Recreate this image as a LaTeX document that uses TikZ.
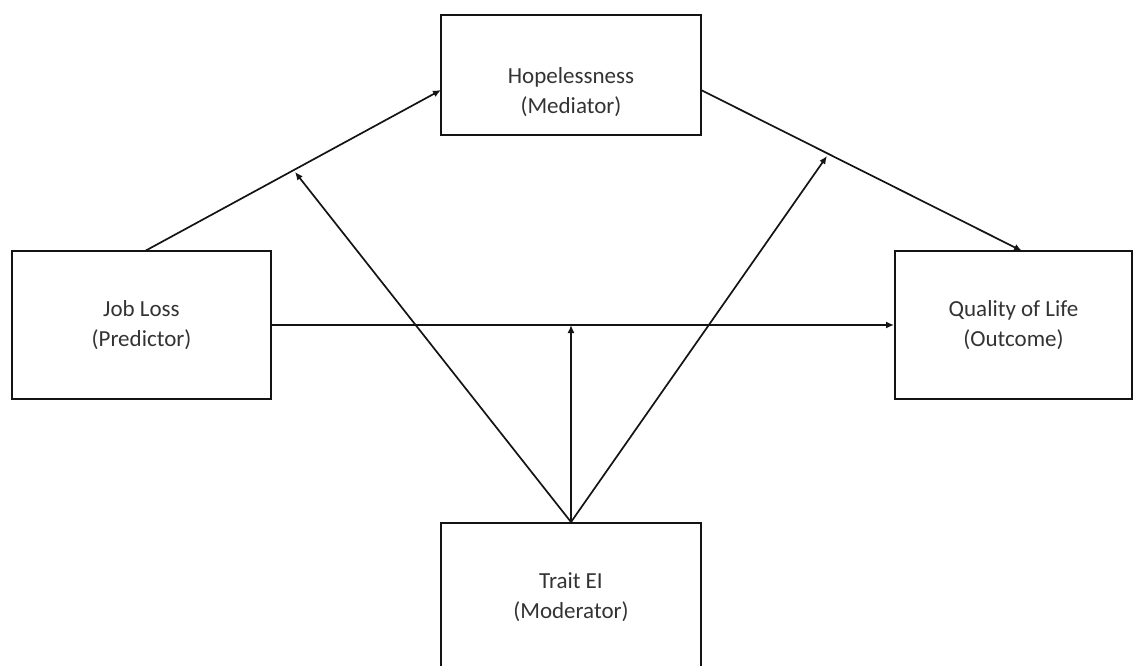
\documentclass[tikz,border=0pt]{standalone}
\usepackage{fontspec}
\setmainfont{Carlito}
\usetikzlibrary{arrows.meta}
\definecolor{linec}{gray}{0.08}
\definecolor{txtc}{gray}{0.2}
\begin{document}
\begin{tikzpicture}[x=1pt,y=-1pt,
  box/.style={draw=linec, line width=1.9pt, minimum width=260pt, align=center, text=txtc, inner sep=0pt},
  lbl/.style={align=center, text=txtc, inner sep=0pt},
  conn/.style={draw=linec, line width=1.7pt, -{Latex[length=8pt,width=7pt]}},
  font=\fontsize{23}{30}\selectfont]
\useasboundingbox (0,0) rectangle (1144,666);
\node[box, minimum height=120pt] (hop) at (571,75) {};
\node[lbl] (hopt) at (571,92) {Hopelessness\\(Mediator)};
\node[box, minimum width=259pt, minimum height=148pt] (job) at (141.5,325) {Job Loss\\(Predictor)};
\node[box, minimum width=237pt, minimum height=148pt] (qol) at (1013.5,325) {Quality of Life\\(Outcome)};
\node[box, minimum height=148pt] (trait) at (571,597) {Trait EI\\(Moderator)};
\coordinate (jobtop) at (145,251);
\coordinate (hopin) at (441,90);
\coordinate (hopout) at (701,90);
\coordinate (qoltop) at (1022,251);
\coordinate (m1) at (295,172);
\coordinate (m2) at (827,156);
\coordinate (m3) at (571,325);
\draw[conn] (jobtop) -- (hopin);
\draw[conn] (hopout) -- (qoltop);
\draw[conn] (job.east |- m3) -- (qol.west |- m3);
\draw[conn] (trait.north) -- (m1);
\draw[conn] (trait.north) -- (m2);
\draw[conn] (trait.north) -- (m3);
\end{tikzpicture}
\end{document}
